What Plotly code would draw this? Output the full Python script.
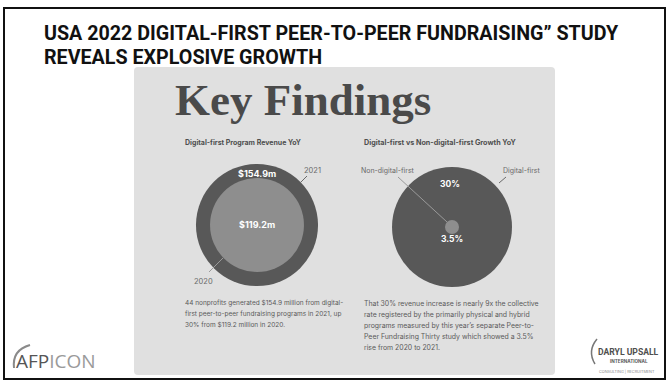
import plotly.graph_objects as go

# Program revenue (USD millions) for digital-first programs
rev_years = ["2020", "2021"]
rev_values = [119.2, 154.9]

# Year-over-year growth (%)
growth_groups = ["Non-digital-first", "Digital-first"]
growth_values = [3.5, 30]

W, H = 670, 382
REV_PX_PER_M = 0.788      # marker diameter in px per $1m
GROWTH_PX_PER_PCT = 4.0   # marker diameter in px per 1 %

SERIF = "Liberation Serif, DejaVu Serif, serif"
SANS = "Inter, Roboto, Noto Sans, sans-serif"
NARROW = "Liberation Sans Narrow, Roboto, Liberation Sans, sans-serif"

fig = go.Figure()

# revenue circles: larger year drawn first so the smaller sits on top
rev_cx, rev_cy = 257, 225
rev_colors = {"2021": "#585858", "2020": "#8e8e8e"}
for yr, val in sorted(zip(rev_years, rev_values), key=lambda t: -t[1]):
    fig.add_trace(go.Scatter(
        x=[rev_cx], y=[rev_cy], mode="markers",
        marker=dict(size=val * REV_PX_PER_M, color=rev_colors[yr],
                    line=dict(width=0)),
        hoverinfo="skip", showlegend=False))

# growth circles
gr_cx, gr_cy = 452, 227
gr_colors = {"Digital-first": "#585858", "Non-digital-first": "#8e8e8e"}
for grp, val in sorted(zip(growth_groups, growth_values), key=lambda t: -t[1]):
    fig.add_trace(go.Scatter(
        x=[gr_cx], y=[gr_cy], mode="markers",
        marker=dict(size=val * GROWTH_PX_PER_PCT, color=gr_colors[grp],
                    line=dict(width=0)),
        hoverinfo="skip", showlegend=False))


def rounded_rect(x0, y0, x1, y1, r):
    return (f"M {x0+r},{y0} L {x1-r},{y0} Q {x1},{y0} {x1},{y0+r} "
            f"L {x1},{y1-r} Q {x1},{y1} {x1-r},{y1} L {x0+r},{y1} "
            f"Q {x0},{y1} {x0},{y1-r} L {x0},{y0+r} Q {x0},{y0} {x0+r},{y0} Z")


shapes = [
    # slide frame
    dict(type="rect", x0=4, y0=8, x1=665, y1=379,
         line=dict(color="#111111", width=2), fillcolor="rgba(0,0,0,0)",
         layer="below"),
    # infographic panel
    dict(type="path", path=rounded_rect(134, 67, 555, 375, 4),
         line=dict(width=0), fillcolor="#e0e0e0", layer="below"),
    # leader lines
    dict(type="line", x0=300, y0=183, x1=307, y1=176,
         line=dict(color="#6a6a6a", width=1)),
    dict(type="line", x0=209, y0=272, x1=223, y1=258,
         line=dict(color="#9a9a9a", width=1)),
    dict(type="line", x0=398, y0=177, x1=447, y1=222,
         line=dict(color="#9a9a9a", width=1)),
    dict(type="line", x0=499, y0=183, x1=506, y1=177,
         line=dict(color="#6a6a6a", width=1)),
    # logo swooshes
    dict(type="path", path="M 14,368 Q 12,350 30,345",
         line=dict(color="#8a8a8a", width=2)),
    dict(type="path", path="M 597,339 Q 587,351 595,364",
         line=dict(color="#777777", width=1.5)),
]

ann = []


def text(x, y, s, size, color, family=SANS, xa="center", ya="middle"):
    ann.append(dict(x=x, y=y, xref="x", yref="y", text=s, showarrow=False,
                    xanchor=xa, yanchor=ya,
                    font=dict(size=size, color=color, family=family)))


# slide title
text(42, 33, "<b>USA 2022 DIGITAL-FIRST PEER-TO-PEER FUNDRAISING\u201d STUDY</b>",
     19.7, "#111111", NARROW, xa="left")
text(42, 57, "<b>REVEALS EXPLOSIVE GROWTH</b>", 19.7, "#111111", NARROW, xa="left")

# panel heading
text(173, 100, "<b>Key Findings</b>", 45, "#4a4a4a", SERIF, xa="left")
text(183, 142, "<b>Digital-first Program Revenue YoY</b>", 7.0, "#4f4f4f", xa="left")
text(362, 142, "<b>Digital-first vs Non-digital-first Growth YoY</b>", 7.2,
     "#4f4f4f", xa="left")

# circle labels
text(rev_cx, 173, "<b>$%.1fm</b>" % rev_values[1], 9, "#ffffff")
text(rev_cx, 224, "<b>$%.1fm</b>" % rev_values[0], 9, "#ffffff")
text(312, 170, rev_years[1], 7.5, "#6a6a6a")
text(203, 281, rev_years[0], 7.5, "#6a6a6a")

text(gr_cx - 2, 184, "<b>%g%%</b>" % growth_values[1], 8.5, "#ffffff")
text(gr_cx, 239, "<b>%g%%</b>" % growth_values[0], 8.5, "#ffffff")
text(388, 170, growth_groups[0], 7.0, "#6a6a6a")
text(522, 170, growth_groups[1], 7.0, "#6a6a6a")

# body copy
left_lines = [
    "44 nonprofits generated $154.9 million from digital-",
    "first peer-to-peer fundraising programs in 2021, up",
    "30% from $119.2 million in 2020.",
]
right_lines = [
    "That 30% revenue increase is nearly 9x the collective",
    "rate registered by the primarily physical and hybrid",
    "programs measured by this year\u2019s separate Peer-to-",
    "Peer Fundraising Thirty study which showed a 3.5%",
    "rise from 2020 to 2021.",
]
for i, s in enumerate(left_lines):
    text(183, 303 + i * 11, s, 6.5, "#5a5a5a", xa="left")
for i, s in enumerate(right_lines):
    text(362, 303 + i * 11, s, 6.9, "#5a5a5a", xa="left")

# AFP ICON logo
text(14, 361, "AFP<span style='color:#9a9a9a'>ICON</span>", 19, "#555555",
     "Open Sans, Liberation Sans, sans-serif", xa="left")

# Daryl Upsall logo
text(628, 352, "<b>DARYL UPSALL</b>", 8.6, "#4f4f4f", NARROW)
text(629, 361, "<b>INTERNATIONAL</b>", 4.6, "#5a5a5a", SANS)
text(627, 371, "CONSULTING | RECRUITMENT", 3.8, "#888888", SANS)

fig.update_layout(
    width=W, height=H,
    margin=dict(l=0, r=0, t=0, b=0),
    paper_bgcolor="#ffffff", plot_bgcolor="#ffffff",
    xaxis=dict(range=[0, W], visible=False, fixedrange=True),
    yaxis=dict(range=[H, 0], visible=False, fixedrange=True),
    shapes=shapes, annotations=ann, showlegend=False,
)

fig.write_html("out.html", config={"displayModeBar": False})
